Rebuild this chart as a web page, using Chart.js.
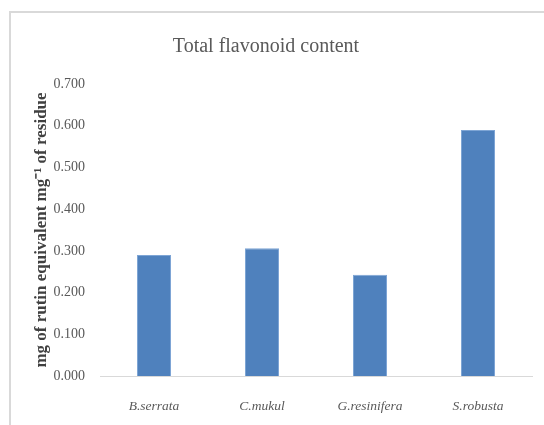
<!DOCTYPE html>
<html>
<head>
<meta charset="utf-8">
<script src="https://cdn.jsdelivr.net/npm/chart.js@4"></script>
<style>
  html, body { margin: 0; padding: 0; background: #fff; overflow: hidden; }
  #wrap { position: relative; width: 544px; height: 425px; }
  #frame {
    position: absolute; left: 9px; top: 11px; width: 600px; height: 500px;
    border-left: 2px solid #d9d9d9; border-top: 2px solid #d9d9d9;
  }
  #chart { position: absolute; left: 0; top: 0; }
</style>
</head>
<body>
<div id="wrap">
  <div id="frame"></div>
  <canvas id="chart" width="544" height="425"></canvas>
</div>
<script>
// species and flavonoid content (mg rutin eq. per mg residue)
const species = ["B.serrata", "C.mukul", "G.resinifera", "S.robusta"];
const flavonoid = [0.290, 0.306, 0.243, 0.590];
const yMin = 0;
const yMax = 0.7;
const yStep = 0.1;

const grey = "#595959";

new Chart(document.getElementById("chart"), {
  type: "bar",
  data: {
    labels: species,
    datasets: [
      {
        label: "Total flavonoid content",
        data: flavonoid,
        backgroundColor: "#4f81bd",
        borderColor: "#7ea5d5",
        borderWidth: 1,
        categoryPercentage: 1,
        barPercentage: 0.315,
      },
    ],
  },
  options: {
    responsive: false,
    animation: false,
    layout: { padding: { left: 0, right: 12, top: 0, bottom: 0 } },
    plugins: {
      legend: { display: false },
      tooltip: { enabled: false },
      title: {
        display: true,
        text: "Total flavonoid content",
        color: grey,
        font: { family: "Liberation Serif", size: 20, weight: "normal" },
        padding: { top: 35, bottom: 25 },
      },
    },
    scales: {
      x: {
        grid: { display: false, drawTicks: false },
        border: { display: true, color: "#d9d9d9", width: 1 },
        ticks: {
          color: grey,
          padding: 22,
          font: { family: "Liberation Serif", size: 13.5, style: "italic" },
        },
        afterFit: (s) => { s.height = 49; },
      },
      y: {
        min: yMin,
        max: yMax,
        grid: { display: false, drawTicks: false },
        border: { display: false },
        ticks: {
          stepSize: yStep,
          color: grey,
          padding: 15,
          font: { family: "Liberation Serif", size: 14 },
          callback: (v) => Number(v).toFixed(3),
        },
        title: {
          display: true,
          text: "mg of rutin equivalent mg\u207B\u00B9 of residue",
          color: "#404040",
          font: { family: "Liberation Serif", size: 17, weight: "bold" },
          padding: { top: 31, bottom: 0 },
        },
        afterFit: (s) => { s.width = 100; },
      },
    },
  },
});
</script>
</body>
</html>
